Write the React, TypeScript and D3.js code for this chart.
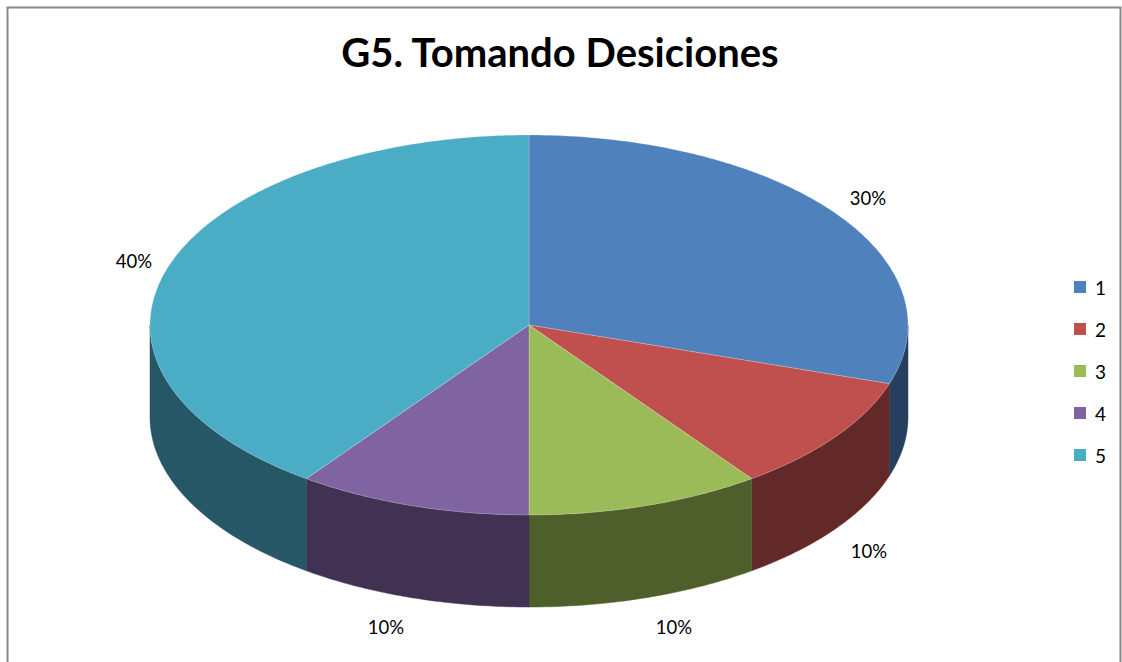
import React from "react";
import * as d3 from "d3";

const categories = ["1", "2", "3", "4", "5"];
const values = [30, 10, 10, 10, 40];
const labels = ["30%", "10%", "10%", "10%", "40%"];
const topColors = ["#4F81BD", "#C0504D", "#9BBB59", "#8064A2", "#4BACC6"];
const sideColors = ["#273F5F", "#622928", "#4F5F2C", "#413152", "#255766"];
const title = "G5. Tomando Desiciones";

const W = 1122;
const H = 662;
const cx = 529;
const cy = 325;
const rx = 379;
const ry = 190;
const depth = 92;

function pt(a: number, r = 1, dy = 0): [number, number] {
  return [cx + rx * r * Math.sin(a), cy - ry * r * Math.cos(a) + dy];
}

function arcPts(a0: number, a1: number, dy = 0): [number, number][] {
  const n = Math.max(2, Math.ceil(Math.abs(a1 - a0) / 0.01));
  const out: [number, number][] = [];
  for (let i = 0; i <= n; i++) out.push(pt(a0 + ((a1 - a0) * i) / n, 1, dy));
  return out;
}

const line = d3.line();

export default function App() {
  const pie = d3.pie<number>().sort(null).value((d) => d);
  const arcs = pie(values);

  const sides = arcs.map((a, i) => {
    const s = Math.max(a.startAngle, Math.PI / 2);
    const e = Math.min(a.endAngle, (3 * Math.PI) / 2);
    if (e <= s) return null;
    const top = arcPts(s, e, 0);
    const bot = arcPts(e, s, depth);
    return <path key={"s" + i} d={line([...top, ...bot])! + "Z"} fill={sideColors[i]} stroke={sideColors[i]} strokeWidth={0.5} />;
  });

  const tops = arcs.map((a, i) => {
    const pts = [[cx, cy] as [number, number], ...arcPts(a.startAngle, a.endAngle, 0)];
    return <path key={"t" + i} d={line(pts)! + "Z"} fill={topColors[i]} stroke="rgba(255,255,255,0.35)" strokeWidth={0.6} />;
  });

  const labelPos: [number, number][] = [
    [868, 198],
    [869, 551],
    [674, 627],
    [386, 627],
    [134, 261],
  ];

  const legendY = d3.scalePoint<string>().domain(categories).range([287, 455]);

  return (
    <svg width={W} height={H} style={{ position: "absolute", left: 0, top: 0 }}>
      <rect x={0} y={0} width={W} height={H} fill="#fff" />
      <path d={`M7.5,${H} V7.5 H1120.5 V${H}`} fill="none" stroke="#888" strokeWidth={2} />
      <text x={560} y={67} textAnchor="middle" fontFamily="Lato, 'Open Sans', sans-serif" fontWeight="bold" fontSize={40} fill="#000">
        {title}
      </text>
      {sides}
      {tops}
      {labels.map((l, i) => (
        <text key={"l" + i} x={labelPos[i][0]} y={labelPos[i][1]} textAnchor="middle" dominantBaseline="central" fontFamily="Lato, 'Open Sans', sans-serif" fontSize={18.5} fill="#000">
          {l}
        </text>
      ))}
      {categories.map((c, i) => (
        <g key={"g" + i}>
          <rect x={1074} y={legendY(c)! - 6} width={12} height={12} fill={topColors[i]} />
          <text x={1095} y={legendY(c)!} dominantBaseline="central" fontFamily="Lato, 'Open Sans', sans-serif" fontSize={19} fill="#000">
            {c}
          </text>
        </g>
      ))}
    </svg>
  );
}
